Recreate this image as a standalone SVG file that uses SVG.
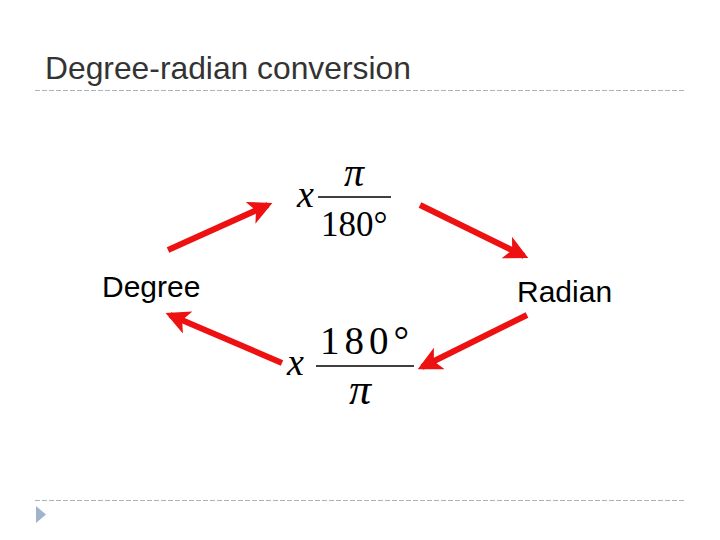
<svg xmlns="http://www.w3.org/2000/svg" width="720" height="540" viewBox="0 0 720 540">
<style>
.title{font-family:"Liberation Sans",Arial,sans-serif;font-size:31.8px;fill:#333}
.lbl{font-family:"Liberation Sans",Arial,sans-serif;font-size:30px;fill:#000}
.math{font-family:"Liberation Serif","Times New Roman",serif;fill:#000}
.it{font-style:italic}
.dash{stroke:#aab4be;stroke-width:1;stroke-dasharray:5 2}
.arr{stroke:#ee1111;stroke-width:6;fill:none;marker-end:url(#ah)}
</style>
<defs>
<marker id="ah" viewBox="0 0 10 10" refX="8" refY="5" markerWidth="4" markerHeight="4" orient="auto" markerUnits="strokeWidth">
<path d="M0,0 L10,5 L0,10 L2.5,5 Z" fill="#ee1111"/>
</marker>
</defs>
<rect width="720" height="540" fill="#fff"/>
<g id="header">
<text class="title" x="45" y="79">Degree-radian conversion</text>
<line class="dash" x1="35" y1="90.5" x2="686" y2="90.5"/>
</g>
<g id="footer">
<line class="dash" x1="35" y1="500.5" x2="686" y2="500.5"/>
<path d="M36,506 L46,514.5 L36,523 Z" fill="#9fb4cc"/>
</g>
<g id="degree"><text class="lbl" x="102" y="297">Degree</text></g>
<g id="radian"><text class="lbl" x="517" y="302">Radian</text></g>
<g id="formula-top">
<text class="math it" x="297" y="207" font-size="38">x</text>
<text class="math it" x="344" y="186" font-size="40">π</text>
<line x1="318" y1="197" x2="391" y2="197" stroke="#000" stroke-width="1.5"/>
<text class="math" x="321" y="236" font-size="35">180°</text>
</g>
<g id="formula-bottom">
<text class="math it" x="287" y="375" font-size="38">x</text>
<text class="math" x="320" y="354" font-size="39" letter-spacing="5">180°</text>
<line x1="316" y1="366" x2="414" y2="366" stroke="#000" stroke-width="1.5"/>
<text class="math it" x="349" y="404" font-size="44">π</text>
</g>
<g id="connectors">
<line class="arr" x1="168" y1="250" x2="268" y2="205"/>
<line class="arr" x1="420" y1="205" x2="524" y2="256"/>
<line class="arr" x1="527" y1="315" x2="422" y2="367"/>
<line class="arr" x1="282" y1="363" x2="170" y2="315"/>
</g>
</svg>
